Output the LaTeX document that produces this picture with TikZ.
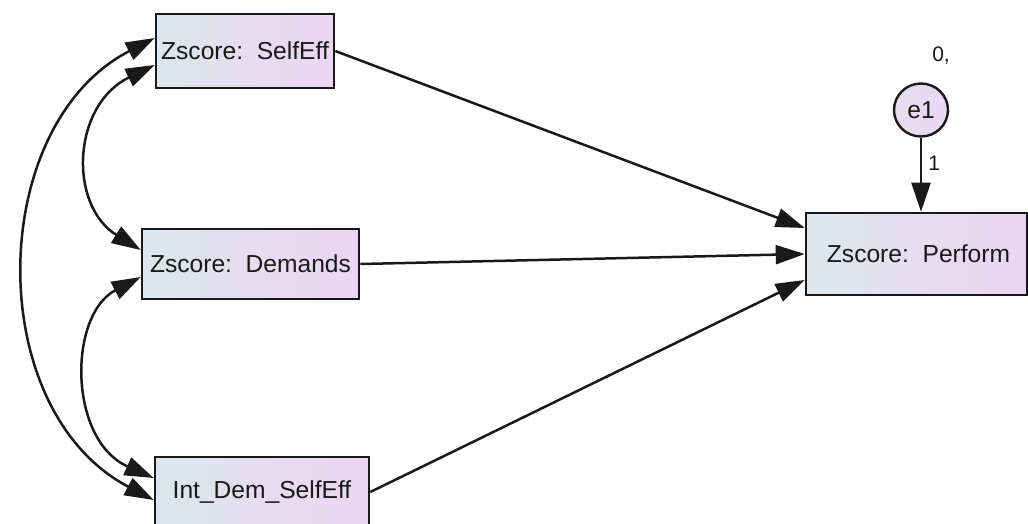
\documentclass[tikz,border=0pt]{standalone}
\usepackage{fontspec}
\setmainfont{Liberation Sans}
\usetikzlibrary{arrows.meta,shapes.geometric}
\definecolor{boxleft}{RGB}{221,230,236}
\definecolor{boxright}{RGB}{236,213,244}
\definecolor{ink}{RGB}{25,25,25}
\tikzset{
  obsbox/.style={draw=ink, line width=2.6pt, rectangle, inner sep=0pt,
    left color=boxleft, right color=boxright, text=ink,
    font=\fontsize{24.6}{28}\selectfont},
  errnode/.style={draw=ink, line width=2.4pt, ellipse, inner sep=0pt,
    minimum width=54pt, minimum height=53pt,
    left color=boxleft!60!boxright, right color=boxright, text=ink,
    font=\fontsize{24.6}{28}\selectfont},
  path/.style={draw=ink, line width=2.5pt, -{Triangle[length=29pt,width=19pt]}},
  cov/.style={draw=ink, line width=2.5pt,
    {Triangle[length=29pt,width=19pt]}-{Triangle[length=29pt,width=19pt]}},
  lbl/.style={text=ink, font=\fontsize{21}{24}\selectfont, inner sep=0pt}
}
\begin{document}
\begin{tikzpicture}[x=1pt,y=-1pt]
\useasboundingbox (0,0) rectangle (1028,523);

% observed variables
\node[obsbox, minimum width=178pt, minimum height=74pt] (self) at (245,51) {Zscore:\ \ SelfEff};
\node[obsbox, minimum width=217pt, minimum height=70pt] (dem) at (250.5,264) {Zscore:\ \ Demands};
\node[obsbox, minimum width=214pt, minimum height=70pt] (int) at (262,492) {Int\_Dem\_SelfEff};
\node[obsbox, minimum width=221pt, minimum height=82pt] (perf) at (916.5,254) {\hspace*{4pt}Zscore:\ \ Perform};

% error term
\node[errnode] (e1) at (921,110) {e1};
\node[lbl] (e1mean) at (941,56) {0,};

% regression paths (yshift works on the page, so positive is upwards)
\draw[path] (self.east) -- ([yshift=26pt]perf.west);
\draw[path] (dem.east) -- (perf.west);
\draw[path] (int.east) -- ([yshift=-26pt]perf.west);
\draw[path] (e1.south) -- node[lbl, right=6pt, pos=0.35] (w1) {1} (e1.south |- perf.north);

% covariances
\coordinate (selfA) at ([yshift=13pt]self.west);
\coordinate (selfB) at ([yshift=-14pt]self.west);
\coordinate (demA) at ([yshift=14pt]dem.west);
\coordinate (demB) at ([yshift=-13pt]dem.west);
\coordinate (intA) at ([yshift=14pt]int.west);
\coordinate (intB) at ([yshift=-8pt]int.west);
\draw[cov] (selfA) .. controls (-14,125) and (-18,410) .. (intB);
\draw[cov] (selfB) .. controls (72,105) and (68,205) .. (demA);
\draw[cov] (demB) .. controls (68,315) and (68,440) .. (intA);
\end{tikzpicture}
\end{document}
